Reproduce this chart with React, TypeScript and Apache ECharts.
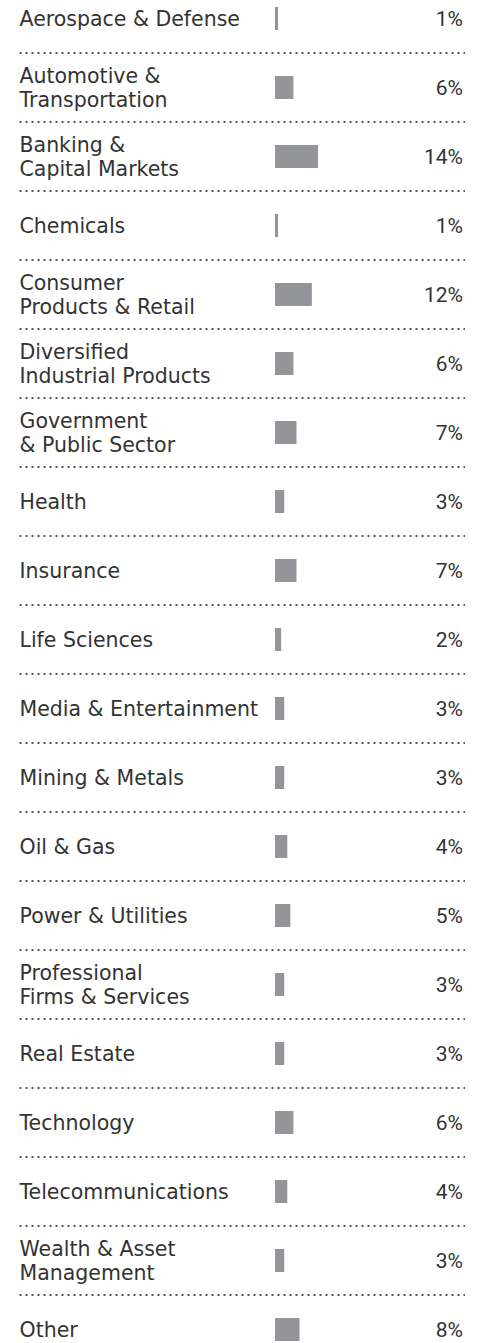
import React, { useEffect, useRef } from "react";
import * as echarts from "echarts";

const categories: string[] = [
  "Aerospace & Defense",
  "Automotive &\nTransportation",
  "Banking &\nCapital Markets",
  "Chemicals",
  "Consumer\nProducts & Retail",
  "Diversified\nIndustrial Products",
  "Government\n& Public Sector",
  "Health",
  "Insurance",
  "Life Sciences",
  "Media & Entertainment",
  "Mining & Metals",
  "Oil & Gas",
  "Power & Utilities",
  "Professional\nFirms & Services",
  "Real Estate",
  "Technology",
  "Telecommunications",
  "Wealth & Asset\nManagement",
  "Other",
];

const shares: number[] = [1, 6, 14, 1, 12, 6, 7, 3, 7, 2, 3, 3, 4, 5, 3, 3, 6, 4, 3, 8];

const LABEL_FONT = "'DejaVu Sans', sans-serif";
const VALUE_FONT = "Roboto, sans-serif";
const TEXT_COLOR = "#333333";
const BAR_COLOR = "#939598";

export default function App() {
  const ref = useRef<HTMLDivElement>(null);

  useEffect(() => {
    if (!ref.current) return;
    const chart = echarts.init(ref.current, null, { renderer: "svg" });
    chart.setOption({
      animation: false,
      backgroundColor: "#ffffff",
      grid: [
        { left: 19.5, right: 17, top: 0, bottom: 0 },
        { left: 275, right: 53.5, top: 0, bottom: 0 },
      ],
      xAxis: [
        { type: "value", gridIndex: 0, min: 0, max: 1, show: false },
        { type: "value", gridIndex: 1, min: 0, max: 50, show: false },
      ],
      yAxis: [
        {
          type: "category",
          gridIndex: 0,
          data: categories,
          inverse: true,
          position: "left",
          axisLine: { show: false },
          axisTick: { show: false },
          axisLabel: {
            inside: true,
            interval: 0,
            margin: 0,
            align: "left",
            fontFamily: LABEL_FONT,
            fontSize: 20.5,
            lineHeight: 24,
            color: TEXT_COLOR,
          },
          splitLine: {
            show: true,
            interval: 0,
            lineStyle: { color: "#555555", width: 2, type: [2, 4], cap: "butt" },
          },
        },
        {
          type: "category",
          gridIndex: 0,
          data: categories,
          inverse: true,
          position: "right",
          axisLine: { show: false },
          axisTick: { show: false },
          splitLine: { show: false },
          axisLabel: {
            inside: true,
            interval: 0,
            margin: 2,
            align: "right",
            fontFamily: VALUE_FONT,
            fontSize: 21,
            color: TEXT_COLOR,
            formatter: (_v: string, i: number) => `${shares[i]}%`,
          },
        },
        {
          type: "category",
          gridIndex: 1,
          data: categories,
          inverse: true,
          show: false,
        },
      ],
      series: [
        {
          type: "bar",
          xAxisIndex: 1,
          yAxisIndex: 2,
          data: shares,
          barWidth: 23,
          itemStyle: { color: BAR_COLOR },
          silent: true,
        },
      ],
    });
    return () => chart.dispose();
  }, []);

  return (
    <div
      ref={ref}
      style={{ position: "absolute", left: 0, top: -16, width: 482, height: 1380 }}
    />
  );
}
